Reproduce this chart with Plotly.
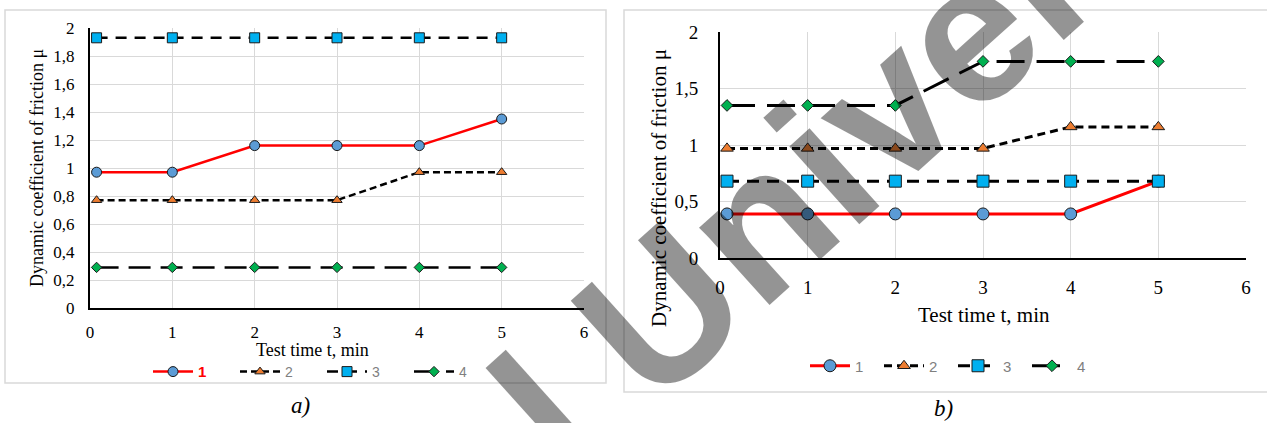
import plotly.graph_objects as go

W, H = 1267, 423

# ---------------- data ----------------
t = [0.08, 1, 2, 3, 4, 5]
series_names = ["1", "2", "3", "4"]

a_s1 = [0.97, 0.97, 1.16, 1.16, 1.16, 1.35]
a_s2 = [0.77, 0.77, 0.77, 0.77, 0.97, 0.97]
a_s3 = [1.93, 1.93, 1.93, 1.93, 1.93, 1.93]
a_s4 = [0.29, 0.29, 0.29, 0.29, 0.29, 0.29]

b_s1 = [0.39, 0.39, 0.39, 0.39, 0.39, 0.68]
b_s2 = [0.97, 0.97, 0.97, 0.97, 1.16, 1.16]
b_s3 = [0.68, 0.68, 0.68, 0.68, 0.68, 0.68]
b_s4 = [1.35, 1.35, 1.35, 1.74, 1.74, 1.74]

x_ticks = [0, 1, 2, 3, 4, 5, 6]
x_labels = ["0", "1", "2", "3", "4", "5", "6"]
ya_ticks = [0, 0.2, 0.4, 0.6, 0.8, 1.0, 1.2, 1.4, 1.6, 1.8, 2.0]
ya_labels = ["0", "0,2", "0,4", "0,6", "0,8", "1", "1,2", "1,4", "1,6", "1,8", "2"]
yb_ticks = [0, 0.5, 1.0, 1.5, 2.0]
yb_labels = ["0", "0,5", "1", "1,5", "2"]

y_title = "Dynamic coefficient of friction μ"
x_title = "Test time t, min"
watermark = "National University"

# ---------------- helpers ----------------
def px(x):
    return x / W

def py(y):
    return 1 - y / H

line_colors = ["#ff0000", "#000000", "#000000", "#000000"]
symbols = ["circle", "triangle-up", "square", "diamond"]
marker_colors = ["#5b9bd5", "#ed7d31", "#00b0f0", "#00b050"]
dash_a = ["solid", "7px,4px", "11px,8px", "22px,10px"]
dash_b = ["solid", "8px,5px", "12px,8px", "28px,12px"]
sizes_a = [10, 9, 10, 8]
sizes_b = [12, 11, 12, 9]
legend_a_names = ['<b><span style="color:#ff0000;font-size:15px">1</span></b>', "2", "3", "4"]

fig = go.Figure()

for i, ys in enumerate([a_s1, a_s2, a_s3, a_s4]):
    fig.add_trace(go.Scatter(
        x=t, y=ys, name=legend_a_names[i], mode="lines+markers",
        line=dict(color=line_colors[i], width=2.5, dash=dash_a[i]),
        marker=dict(symbol=symbols[i], size=sizes_a[i], color=marker_colors[i],
                    line=dict(color="#1a1a1a", width=1)),
        xaxis="x", yaxis="y", legend="legend",
    ))

for i, ys in enumerate([b_s1, b_s2, b_s3, b_s4]):
    fig.add_trace(go.Scatter(
        x=t, y=ys, name=series_names[i], mode="lines+markers",
        line=dict(color=line_colors[i], width=3, dash=dash_b[i]),
        marker=dict(symbol=symbols[i], size=sizes_b[i], color=marker_colors[i],
                    line=dict(color="#1a1a1a", width=1)),
        xaxis="x2", yaxis="y2", legend="legend2",
    ))

axis_common = dict(showgrid=True, gridcolor="#d9d9d9", gridwidth=1, zeroline=False,
                   showline=True, linecolor="#000000", linewidth=2, automargin=False,
                   ticks="outside", tickcolor="rgba(0,0,0,0)")

fig.update_layout(
    width=W, height=H,
    margin=dict(l=0, r=0, t=0, b=0, autoexpand=False),
    paper_bgcolor="white", plot_bgcolor="white",
    showlegend=True,
    xaxis=dict(domain=[px(90), px(584)], range=[0, 6], tickvals=x_ticks, ticktext=x_labels,
               ticklen=8, anchor="y",
               tickfont=dict(family="Liberation Serif", size=17, color="#000"), **axis_common),
    yaxis=dict(domain=[py(308), py(28)], range=[0, 2], tickvals=ya_ticks, ticktext=ya_labels,
               ticklen=10, anchor="x",
               tickfont=dict(family="Liberation Serif", size=17, color="#000"), **axis_common),
    xaxis2=dict(domain=[px(720), px(1246)], range=[0, 6], tickvals=x_ticks, ticktext=x_labels,
                ticklen=11, anchor="y2",
                tickfont=dict(family="Liberation Serif", size=19, color="#000"), **axis_common),
    yaxis2=dict(domain=[py(258), py(32)], range=[0, 2], tickvals=yb_ticks, ticktext=yb_labels,
                ticklen=16, anchor="x2",
                tickfont=dict(family="Liberation Serif", size=19, color="#000"), **axis_common),
    legend=dict(orientation="h", x=px(148), y=py(372), xanchor="left", yanchor="middle",
                bgcolor="rgba(0,0,0,0)", entrywidth=32, itemwidth=40, traceorder="normal",
                font=dict(family="Liberation Sans", size=14, color="#7f7f7f")),
    legend2=dict(orientation="h", x=px(805), y=py(366), xanchor="left", yanchor="middle",
                 bgcolor="rgba(0,0,0,0)", entrywidth=19, itemwidth=40, traceorder="normal",
                 font=dict(family="Liberation Sans", size=15, color="#7f7f7f")),
)

shapes = [
    dict(type="rect", xref="paper", yref="paper", x0=px(5), x1=px(606), y0=py(383), y1=py(10),
         line=dict(color="#d9d9d9", width=1.5), fillcolor="rgba(0,0,0,0)", layer="below"),
    dict(type="rect", xref="paper", yref="paper", x0=px(624), x1=px(1268), y0=py(392), y1=py(10),
         line=dict(color="#d9d9d9", width=1.5), fillcolor="rgba(0,0,0,0)", layer="below"),
]
fig.update_layout(shapes=shapes)

ann = [
    dict(text=y_title, x=px(37), y=py(168), textangle=-90,
         font=dict(family="Liberation Serif", size=18, color="#000")),
    dict(text=x_title, x=px(312), y=py(350),
         font=dict(family="Liberation Serif", size=18, color="#000")),
    dict(text=y_title, x=px(659), y=py(188), textangle=-90,
         font=dict(family="Liberation Serif", size=21, color="#000")),
    dict(text=x_title, x=px(984), y=py(315),
         font=dict(family="Liberation Serif", size=21, color="#000")),
    dict(text="<i>a)</i>", x=px(300), y=py(405),
         font=dict(family="Liberation Serif", size=23, color="#000")),
    dict(text="<i>b)</i>", x=px(943), y=py(408),
         font=dict(family="Liberation Serif", size=23, color="#000")),
    dict(text="<b>" + watermark + "</b>", x=px(652), y=py(318), textangle=-42,
         font=dict(family="Liberation Sans", size=198, color="rgba(0,0,0,0.42)")),
]
for a in ann:
    a.update(xref="paper", yref="paper", showarrow=False, xanchor="center", yanchor="middle")
fig.update_layout(annotations=ann)

fig.write_html("out.html", config={"displayModeBar": False},
               post_script="document.body.style.margin='0';document.body.style.overflow='hidden';")
